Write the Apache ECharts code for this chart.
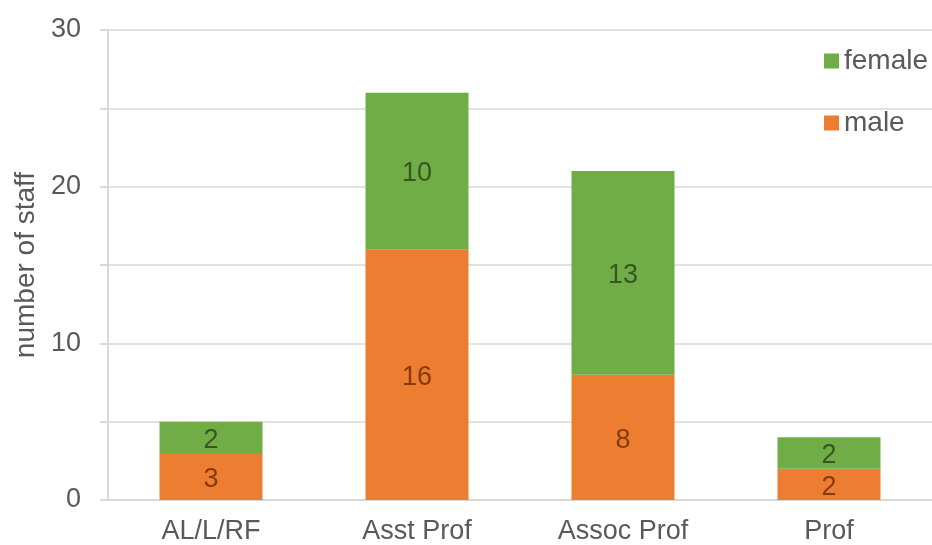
<!DOCTYPE html>
<html>
<head>
<meta charset="utf-8">
<script src="https://cdn.jsdelivr.net/npm/echarts@6/dist/echarts.min.js"></script>
<style>
  html, body { margin: 0; padding: 0; background: #fff; }
  #chart { width: 932px; height: 545px; }
</style>
</head>
<body>
<div id="chart"></div>
<script>
let categories = ['AL/L/RF', 'Asst Prof', 'Assoc Prof', 'Prof']
let maleValues = [3, 16, 8, 2]
let femaleValues = [2, 10, 13, 2]
let yTicks = [0, 10, 20, 30]

let font = 'Liberation Sans, Arial, sans-serif'

let chart = echarts.init(document.querySelector('#chart'))
let option = {
    animation: false,
    textStyle: { fontFamily: font },
    legend: {
        data: ['female', 'male'],
        orient: 'vertical',
        left: 819,
        top: 42,
        itemWidth: 15,
        itemHeight: 15,
        itemGap: 34,
        icon: 'rect',
        textStyle: { fontSize: 28, color: '#595959', fontFamily: font }
    },
    grid: { left: 108, right: -3, top: 30, bottom: 45, containLabel: false },
    xAxis: {
        type: 'category',
        data: categories,
        axisLine: { lineStyle: { color: '#d9d9d9', width: 2 } },
        axisTick: { show: false },
        axisLabel: { fontSize: 27, color: '#595959', margin: 18, fontFamily: font }
    },
    yAxis: {
        type: 'value',
        min: 0,
        max: 30,
        interval: 5,
        name: 'number of staff',
        nameLocation: 'middle',
        nameGap: 62,
        nameTextStyle: { fontSize: 28, color: '#595959', fontFamily: font },
        axisLine: { show: true, lineStyle: { color: '#d9d9d9', width: 2 } },
        axisTick: { show: true, length: 8, lineStyle: { color: '#d9d9d9', width: 2 } },
        splitLine: { lineStyle: { color: '#d9d9d9', width: 1.5 } },
        axisLabel: {
            fontSize: 27, color: '#595959', margin: 27, fontFamily: font,
            formatter: function (v) { return yTicks.indexOf(v) >= 0 ? String(v) : '' }
        }
    },
    series: [
        {
            name: 'male',
            type: 'bar',
            stack: 'staff',
            data: maleValues,
            barWidth: '50%',
            itemStyle: { color: '#ED7D31' },
            label: { show: true, position: 'inside', offset: [0, 3], fontSize: 27, color: '#843C0C', fontFamily: font }
        },
        {
            name: 'female',
            type: 'bar',
            stack: 'staff',
            data: femaleValues,
            barWidth: '50%',
            itemStyle: { color: '#70AD47' },
            label: { show: true, position: 'inside', offset: [0, 3], fontSize: 27, color: '#375623', fontFamily: font }
        }
    ]
}
chart.setOption(option)
</script>
</body>
</html>
